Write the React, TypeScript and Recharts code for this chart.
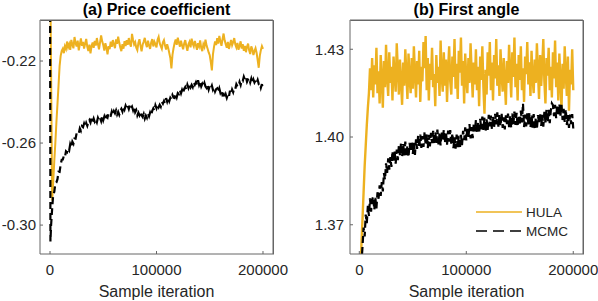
import React from 'react';
import {Legend, Line, LineChart, XAxis, YAxis} from 'recharts';

// sample iterations (in thousands) and traces
const iterA = [
  0, 0.4,
  1, 2, 3, 4, 5, 6, 7, 8, 9, 10,
  11, 12, 13, 14, 15, 16, 17, 18, 19, 20,
  21, 22, 23, 24, 25, 26, 27, 28, 29, 30,
  31, 32, 33, 34, 35, 36, 37, 38, 39, 40,
  41, 42, 43, 44, 45, 46, 47, 48, 49, 50,
  51, 52, 53, 54, 55, 56, 57, 58, 59, 60,
  61, 62, 63, 64, 65, 66, 67, 68, 69, 70,
  71, 72, 73, 74, 75, 76, 77, 78, 79, 80,
  81, 82, 83, 84, 85, 86, 87, 88, 89, 90,
  91, 92, 93, 94, 95, 96, 97, 98, 99, 100,
  101, 102, 103, 104, 105, 106, 107, 108, 109, 110,
  111, 112, 113, 114, 115, 116, 117, 118, 119, 120,
  121, 122, 123, 124, 125, 126, 127, 128, 129, 130,
  131, 132, 133, 134, 135, 136, 137, 138, 139, 140,
  141, 142, 143, 144, 145, 146, 147, 148, 149, 150,
  151, 152, 153, 154, 155, 156, 157, 158, 159, 160,
  161, 162, 163, 164, 165, 166, 167, 168, 169, 170,
  171, 172, 173, 174, 175, 176, 177, 178, 179, 180,
  181, 182, 183, 184, 185, 186, 187, 188, 189, 190,
  191, 192, 193, 194, 195, 196, 197, 198, 199, 200,
];
const hulaA = [
  -0.16, -0.1856,
  -0.224, -0.288, -0.279, -0.269, -0.26, -0.25, -0.241, -0.232, -0.2225, -0.2175,
  -0.215, -0.214, -0.2162, -0.2128, -0.2141, -0.2105, -0.2133, -0.2118, -0.2146, -0.2097,
  -0.2121, -0.2138, -0.2083, -0.2112, -0.2129, -0.2101, -0.2148, -0.2119, -0.209, -0.2126,
  -0.2107, -0.2139, -0.2115, -0.2092, -0.2131, -0.2151, -0.212, -0.2163, -0.2128, -0.211,
  -0.2136, -0.2102, -0.2125, -0.2088, -0.2117, -0.2143, -0.2109, -0.2075, -0.2104, -0.2122,
  -0.2149, -0.2113, -0.2135, -0.2168, -0.2127, -0.2142, -0.2106, -0.2131, -0.2098, -0.212,
  -0.2137, -0.2095, -0.2116, -0.2081, -0.211, -0.2134, -0.2152, -0.2118, -0.214, -0.2103,
  -0.2127, -0.2099, -0.2121, -0.2088, -0.2115, -0.213, -0.2068, -0.2097, -0.2119, -0.2108,
  -0.2135, -0.2147, -0.2112, -0.2094, -0.2126, -0.2153, -0.2121, -0.2105, -0.2087, -0.2116,
  -0.2132, -0.2101, -0.2124, -0.2141, -0.211, -0.2093, -0.2129, -0.2106, -0.2118, -0.2134,
  -0.2096, -0.2082, -0.2113, -0.2127, -0.214, -0.2109, -0.2098, -0.2125, -0.2144, -0.2118,
  -0.2136, -0.2161, -0.2185, -0.2236, -0.217, -0.2138, -0.2112, -0.2095, -0.2121, -0.2086,
  -0.2109, -0.213, -0.2101, -0.2124, -0.2143, -0.2115, -0.2098, -0.2127, -0.215, -0.2119,
  -0.2107, -0.2133, -0.2091, -0.2116, -0.2129, -0.2102, -0.2122, -0.2145, -0.2113, -0.2128,
  -0.21, -0.2137, -0.2152, -0.2118, -0.2131, -0.2096, -0.2124, -0.214, -0.2158, -0.2172,
  -0.2205, -0.2246, -0.2168, -0.2131, -0.2104, -0.2122, -0.2089, -0.2115, -0.2078, -0.2103,
  -0.2126, -0.2094, -0.2066, -0.2099, -0.2118, -0.2135, -0.2107, -0.2141, -0.212, -0.2097,
  -0.2123, -0.2108, -0.2088, -0.2119, -0.2134, -0.2112, -0.2145, -0.2127, -0.2104, -0.2139,
  -0.2118, -0.215, -0.2126, -0.2157, -0.2131, -0.2115, -0.2148, -0.2166, -0.2129, -0.2143,
  -0.2171, -0.2152, -0.2138, -0.216, -0.2195, -0.2233, -0.2175, -0.2147, -0.2128, -0.2141,
];
const mcmcA = [
  -0.16, -0.308,
  -0.3002, -0.2921, -0.2851, -0.2838, -0.2798, -0.2792, -0.2776, -0.274, -0.2741, -0.2705,
  -0.2681, -0.268, -0.2663, -0.2669, -0.264, -0.2645, -0.2628, -0.2636, -0.2605, -0.2618,
  -0.2593, -0.2603, -0.2578, -0.2579, -0.2552, -0.2558, -0.2554, -0.2529, -0.254, -0.2518,
  -0.2523, -0.2505, -0.252, -0.2502, -0.2516, -0.2498, -0.2488, -0.25, -0.2479, -0.2496,
  -0.248, -0.2496, -0.2486, -0.2499, -0.2477, -0.2489, -0.2478, -0.2493, -0.2468, -0.2488,
  -0.2471, -0.2489, -0.247, -0.2476, -0.2454, -0.2465, -0.2467, -0.2447, -0.2463, -0.2445,
  -0.2455, -0.2441, -0.2461, -0.2448, -0.2462, -0.2443, -0.2433, -0.2446, -0.2422, -0.2436,
  -0.2418, -0.2431, -0.2418, -0.2434, -0.2415, -0.243, -0.2422, -0.244, -0.2423, -0.245,
  -0.244, -0.2465, -0.2452, -0.2464, -0.2448, -0.2465, -0.2473, -0.2459, -0.2481, -0.2466,
  -0.2477, -0.2457, -0.247, -0.2451, -0.2463, -0.2443, -0.2431, -0.2442, -0.2416, -0.243,
  -0.2412, -0.2425, -0.2413, -0.2423, -0.2399, -0.2408, -0.2395, -0.2407, -0.2381, -0.2398,
  -0.238, -0.2396, -0.2379, -0.2386, -0.2366, -0.2378, -0.238, -0.2361, -0.2377, -0.2356,
  -0.2361, -0.2343, -0.2358, -0.2341, -0.2355, -0.2336, -0.2327, -0.2339, -0.2316, -0.2331,
  -0.2314, -0.2328, -0.2316, -0.2327, -0.2304, -0.2316, -0.2304, -0.2319, -0.2294, -0.2317,
  -0.2303, -0.2324, -0.2311, -0.2323, -0.2307, -0.2324, -0.2331, -0.2317, -0.2339, -0.2322,
  -0.2333, -0.232, -0.234, -0.2329, -0.2349, -0.2337, -0.2333, -0.2352, -0.2334, -0.2355,
  -0.2344, -0.2366, -0.2361, -0.2379, -0.2363, -0.238, -0.2364, -0.2374, -0.2345, -0.2361,
  -0.2339, -0.2352, -0.2332, -0.2336, -0.2313, -0.2323, -0.2324, -0.2302, -0.2317, -0.2294,
  -0.2298, -0.2277, -0.2291, -0.228, -0.2301, -0.2289, -0.2285, -0.2304, -0.2286, -0.2307,
  -0.229, -0.2305, -0.2295, -0.2307, -0.2292, -0.2311, -0.2307, -0.233, -0.2313, -0.234,
];

const iterB = [
  0,
  1, 2, 3, 4, 5, 6, 7, 8, 9, 10,
  11, 12, 13, 14, 15, 16, 17, 18, 19, 20,
  21, 22, 23, 24, 25, 26, 27, 28, 29, 30,
  31, 32, 33, 34, 35, 36, 37, 38, 39, 40,
  41, 42, 43, 44, 45, 46, 47, 48, 49, 50,
  51, 52, 53, 54, 55, 56, 57, 58, 59, 60,
  61, 62, 63, 64, 65, 66, 67, 68, 69, 70,
  71, 72, 73, 74, 75, 76, 77, 78, 79, 80,
  81, 82, 83, 84, 85, 86, 87, 88, 89, 90,
  91, 92, 93, 94, 95, 96, 97, 98, 99, 100,
  101, 102, 103, 104, 105, 106, 107, 108, 109, 110,
  111, 112, 113, 114, 115, 116, 117, 118, 119, 120,
  121, 122, 123, 124, 125, 126, 127, 128, 129, 130,
  131, 132, 133, 134, 135, 136, 137, 138, 139, 140,
  141, 142, 143, 144, 145, 146, 147, 148, 149, 150,
  151, 152, 153, 154, 155, 156, 157, 158, 159, 160,
  161, 162, 163, 164, 165, 166, 167, 168, 169, 170,
  171, 172, 173, 174, 175, 176, 177, 178, 179, 180,
  181, 182, 183, 184, 185, 186, 187, 188, 189, 190,
  191, 192, 193, 194, 195, 196, 197, 198, 199, 200,
];
const hulaB = [
  1.345,
  1.352, 1.3635, 1.372, 1.381, 1.39, 1.397, 1.404, 1.41, 1.415, 1.4235,
  1.416, 1.427, 1.4135, 1.4245, 1.418, 1.4305, 1.415, 1.4225, 1.4115, 1.428,
  1.4195, 1.41, 1.426, 1.417, 1.4315, 1.4205, 1.414, 1.429, 1.4185, 1.424,
  1.4125, 1.4275, 1.421, 1.4155, 1.432, 1.423, 1.4145, 1.4265, 1.419, 1.411,
  1.4255, 1.4175, 1.43, 1.4215, 1.413, 1.4285, 1.42, 1.415, 1.427, 1.4165,
  1.431, 1.422, 1.4135, 1.426, 1.418, 1.4295, 1.412, 1.424, 1.419, 1.4325,
  1.4235, 1.4345, 1.416, 1.427, 1.4125, 1.425, 1.4195, 1.4305, 1.417, 1.4215,
  1.4105, 1.428, 1.4185, 1.424, 1.414, 1.433, 1.421, 1.4155, 1.429, 1.4175,
  1.4265, 1.412, 1.423, 1.431, 1.419, 1.4145, 1.4275, 1.4205, 1.4335, 1.4165,
  1.425, 1.413, 1.4295, 1.422, 1.434, 1.4175, 1.426, 1.4115, 1.4285, 1.42,
  1.415, 1.427, 1.4185, 1.432, 1.4225, 1.4135, 1.4255, 1.418, 1.43, 1.416,
  1.424, 1.4105, 1.4275, 1.4195, 1.431, 1.417, 1.408, 1.423, 1.4145, 1.429,
  1.421, 1.4325, 1.416, 1.4255, 1.4125, 1.428, 1.42, 1.4335, 1.4175, 1.4245,
  1.414, 1.43, 1.4215, 1.4155, 1.427, 1.419, 1.411, 1.426, 1.4185, 1.4315,
  1.4225, 1.4135, 1.429, 1.4205, 1.434, 1.417, 1.425, 1.4125, 1.428, 1.4195,
  1.431, 1.416, 1.4235, 1.412, 1.4275, 1.4215, 1.4325, 1.418, 1.4255, 1.414,
  1.4295, 1.42, 1.415, 1.4265, 1.4185, 1.432, 1.4225, 1.413, 1.428, 1.4175,
  1.4245, 1.4335, 1.419, 1.4115, 1.427, 1.421, 1.4305, 1.416, 1.424, 1.4135,
  1.429, 1.42, 1.433, 1.417, 1.4255, 1.4125, 1.4285, 1.4195, 1.4095, 1.425,
  1.4165, 1.431, 1.4215, 1.414, 1.4275, 1.409, 1.423, 1.418, 1.43, 1.416,
];
const mcmcB = [
  1.345,
  1.351, 1.357, 1.3625, 1.369, 1.366, 1.3735, 1.3705, 1.3765, 1.373, 1.379,
  1.3745, 1.3785, 1.3797, 1.3751, 1.3792, 1.3756, 1.3811, 1.3789, 1.3835, 1.3799,
  1.3846, 1.3814, 1.3877, 1.3854, 1.391, 1.3877, 1.3927, 1.3888, 1.3931, 1.3898,
  1.3952, 1.3915, 1.3954, 1.3909, 1.3957, 1.3921, 1.3971, 1.3938, 1.398, 1.3933,
  1.3976, 1.3937, 1.3984, 1.3934, 1.3971, 1.3931, 1.398, 1.3951, 1.3987, 1.3942,
  1.398, 1.3939, 1.3992, 1.3959, 1.4006, 1.3963, 1.4008, 1.3963, 1.4003, 1.3966,
  1.4016, 1.3975, 1.4011, 1.3962, 1.4007, 1.3968, 1.4014, 1.3979, 1.4021, 1.3974,
  1.4018, 1.3979, 1.4025, 1.3975, 1.4012, 1.3971, 1.4019, 1.3989, 1.4025, 1.3979,
  1.4016, 1.3974, 1.4022, 1.3984, 1.4024, 1.3974, 1.4013, 1.3962, 1.3999, 1.396,
  1.4008, 1.3965, 1.4004, 1.3959, 1.4007, 1.3972, 1.4021, 1.3989, 1.4033, 1.3988,
  1.4033, 1.3996, 1.4044, 1.3995, 1.4034, 1.3996, 1.4047, 1.4019, 1.4058, 1.4014,
  1.4052, 1.4012, 1.4062, 1.4026, 1.407, 1.4024, 1.4066, 1.4018, 1.406, 1.4024,
  1.4076, 1.4036, 1.4073, 1.4025, 1.4071, 1.4033, 1.4079, 1.4043, 1.4084, 1.4035,
  1.4077, 1.4037, 1.4082, 1.4031, 1.4067, 1.4026, 1.4074, 1.4044, 1.408, 1.4034,
  1.4071, 1.403, 1.408, 1.4044, 1.4087, 1.4041, 1.4083, 1.4035, 1.4075, 1.4039,
  1.409, 1.405, 1.4115, 1.4034, 1.4077, 1.4036, 1.4081, 1.4043, 1.4082, 1.4032,
  1.4073, 1.4032, 1.4078, 1.4028, 1.4066, 1.4026, 1.4075, 1.4046, 1.4083, 1.4038,
  1.4076, 1.4035, 1.4086, 1.405, 1.4094, 1.4049, 1.4093, 1.4047, 1.409, 1.4115,
  1.4109, 1.4071, 1.411, 1.4064, 1.411, 1.4071, 1.4113, 1.4073, 1.411, 1.4058,
  1.4096, 1.4052, 1.4095, 1.4041, 1.4075, 1.4031, 1.4077, 1.4044, 1.4078, 1.4029,
];

const xTicks = [0, 100000, 200000];
const yTicksA = [-0.3, -0.26, -0.22];
const yTicksB = [1.37, 1.4, 1.43];

const HULA_COLOR = '#EDB120';
const AXIS = '#666666';
const TEXT = '#262626';
const FONT = '"Liberation Sans", Arial, Helvetica, sans-serif';

const dataA = iterA.map((k, i) => ({it: k * 1000, hula: hulaA[i], mcmc: mcmcA[i]}));
const dataB = iterB.map((k, i) => ({it: k * 1000, hula: hulaB[i], mcmc: mcmcB[i]}));

function LegendBox() {
    return (
        <svg width={110} height={40} style={{fontFamily: FONT}}>
            <line x1={2} x2={48} y1={12} y2={12} stroke={HULA_COLOR} strokeWidth={1.5} />
            <text x={52} y={12} dy="0.36em" fontSize={13.5} fill={TEXT}>HULA</text>
            <line x1={2} x2={48} y1={31} y2={31} stroke="#000" strokeWidth={1.5} strokeDasharray="11 6" />
            <text x={52} y={31} dy="0.36em" fontSize={13.5} fill={TEXT}>MCMC</text>
        </svg>
    );
}

type PanelProps = {
    data: {it: number, hula: number, mcmc: number}[],
    width: number,
    marginRight: number,
    yWidth: number,
    yDomain: [number, number],
    xDomain: [number, number],
    yTicks: number[],
    yTickMargin: number,
    hulaWidth: number,
    legend?: boolean
};

function Panel({data, width, marginRight, yWidth, yDomain, xDomain, yTicks, yTickMargin, hulaWidth, legend}: PanelProps) {
    return (
        <LineChart
            width={width}
            height={301}
            data={data}
            margin={{top: 15, right: marginRight, left: 0, bottom: 0}}
            style={{fontFamily: FONT}}
        >
            <XAxis
                dataKey="it"
                type="number"
                domain={xDomain}
                ticks={xTicks}
                interval={0}
                allowDataOverflow
                height={47}
                stroke={AXIS}
                tickSize={-3}
                tickMargin={13}
                tick={{fill: TEXT, fontSize: 15}}
                label={{value: 'Sample iteration', position: 'insideBottom', offset: 4, fill: TEXT, fontSize: 16}}
            />
            {/* mirror axes on top and right give the inward ticks of the box */}
            <XAxis
                xAxisId="top"
                orientation="top"
                dataKey="it"
                type="number"
                domain={xDomain}
                ticks={xTicks}
                interval={0}
                allowDataOverflow
                height={5}
                stroke={AXIS}
                tickSize={-3}
                tick={false}
            />
            <YAxis
                type="number"
                domain={yDomain}
                ticks={yTicks}
                interval={0}
                allowDataOverflow
                width={yWidth}
                stroke={AXIS}
                tickSize={-3}
                tickMargin={yTickMargin}
                tick={{fill: TEXT, fontSize: 15}}
                tickFormatter={(v: number) => v.toFixed(2)}
            />
            <YAxis
                yAxisId="right"
                orientation="right"
                type="number"
                domain={yDomain}
                ticks={yTicks}
                interval={0}
                allowDataOverflow
                width={5}
                stroke={AXIS}
                tickSize={-3}
                tick={false}
            />
            <Line type="linear" dataKey="hula" stroke={HULA_COLOR} strokeWidth={hulaWidth} dot={false} isAnimationActive={false} />
            <Line
                type="linear"
                dataKey="mcmc"
                xAxisId="top"
                yAxisId="right"
                stroke="#000"
                strokeWidth={2.2}
                strokeDasharray="7 4"
                dot={false}
                isAnimationActive={false}
            />
            {legend && (
                <Legend
                    layout="vertical"
                    align="center"
                    verticalAlign="middle"
                    wrapperStyle={{left: 174, top: 200, width: 110, height: 40}}
                    content={<LegendBox />}
                />
            )}
        </LineChart>
    );
}

const titleStyle: React.CSSProperties = {
    position: 'absolute',
    top: 2,
    width: 233,
    textAlign: 'center',
    fontFamily: FONT,
    fontWeight: 'bold',
    fontSize: 16,
    lineHeight: '16px',
    color: '#000',
};

// top and right edges of each axes box, drawn over the charts
function Frame({left}: {left: number}) {
    return (
        <svg
            width={236}
            height={238}
            style={{position: 'absolute', left: left - 1, top: 18, pointerEvents: 'none', overflow: 'visible'}}
        >
            <polyline points="1.5,2.5 234.5,2.5 234.5,236.5" fill="none" stroke={AXIS} strokeWidth={1} />
        </svg>
    );
}

export default function App() {
    return (
        <div style={{position: 'absolute', left: 0, top: 0, width: 598, height: 301, background: '#fff'}}>
            <div style={{position: 'absolute', left: 0, top: 0}}>
                <Panel
                    data={dataA}
                    width={299}
                    marginRight={21}
                    yWidth={40}
                    yDomain={[-0.3141, -0.2]}
                    xDomain={[-9400, 209400]}
                    yTicks={yTicksA}
                    yTickMargin={7}
                    hulaWidth={2}
                />
            </div>
            <div style={{position: 'absolute', left: 300, top: 0}}>
                <Panel
                    data={dataB}
                    width={298}
                    marginRight={10}
                    yWidth={50}
                    yDomain={[1.36, 1.44]}
                    xDomain={[-8700, 209100]}
                    yTicks={yTicksB}
                    yTickMargin={9}
                    hulaWidth={2.4}
                    legend
                />
            </div>
            <Frame left={40} />
            <Frame left={350} />
            <div style={{...titleStyle, left: 40}}>(a) Price coefficient</div>
            <div style={{...titleStyle, left: 350}}>(b) First angle</div>
        </div>
    );
}
